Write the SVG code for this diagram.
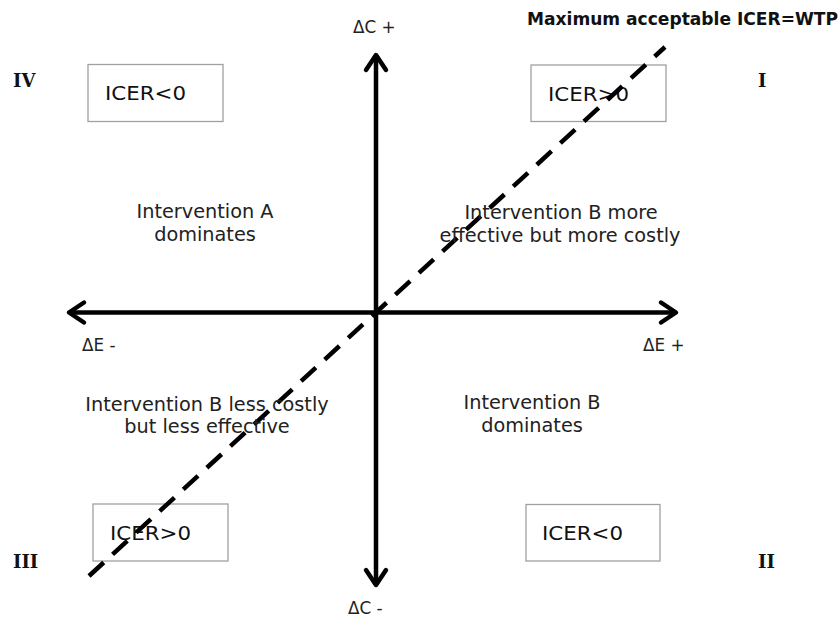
<svg xmlns="http://www.w3.org/2000/svg" width="840" height="619" viewBox="0 0 840 619">
<style>
.lbl{font-family:"DejaVu Sans","Verdana",sans-serif;fill:#222;}
.q{font-size:19.3px;text-anchor:middle;}
.ax{font-size:16.8px;}
.box rect{fill:#fff;stroke:#a0a0a0;stroke-width:1.3;}
.box text{font-family:"DejaVu Sans",sans-serif;font-size:20px;fill:#111;}
.rn{font-family:"DejaVu Serif","Liberation Serif",serif;font-weight:bold;font-size:18px;fill:#111;}
.axis{stroke:#000;stroke-width:4.5;fill:none;}
</style>
<defs>
<marker id="ah" markerUnits="userSpaceOnUse" markerWidth="30" markerHeight="30" refX="0" refY="0" viewBox="-20 -15 25 30" orient="auto">
<path d="M -15 -10 L 0 0 L -15 10" fill="none" stroke="#000" stroke-width="4.5" stroke-linecap="round" stroke-linejoin="round"/>
</marker>
</defs>
<rect width="840" height="619" fill="#fff"/>
<g id="nodes">
<g id="box-iv" class="box"><rect x="88" y="64.5" width="135" height="57"/><text x="105" y="100" textLength="81" lengthAdjust="spacingAndGlyphs">ICER&lt;0</text></g>
<g id="box-i" class="box"><rect x="531" y="65" width="135" height="56.5"/><text x="548" y="101" textLength="81" lengthAdjust="spacingAndGlyphs">ICER&gt;0</text></g>
<g id="box-iii" class="box"><rect x="93" y="504" width="135" height="57"/><text x="110" y="540" textLength="81" lengthAdjust="spacingAndGlyphs">ICER&gt;0</text></g>
<g id="box-ii" class="box"><rect x="526" y="504.5" width="134" height="56.5"/><text x="542" y="540" textLength="81" lengthAdjust="spacingAndGlyphs">ICER&lt;0</text></g>
</g>
<g id="connectors">
<line class="axis" x1="376" y1="313" x2="376" y2="55" marker-end="url(#ah)"/>
<line class="axis" x1="376" y1="313" x2="376" y2="585" marker-end="url(#ah)"/>
<line class="axis" x1="376" y1="312.5" x2="69" y2="312.5" marker-end="url(#ah)"/>
<line class="axis" x1="376" y1="312.5" x2="676" y2="312.5" marker-end="url(#ah)"/>
<line id="wtp" x1="89" y1="576" x2="665" y2="47" stroke="#000" stroke-width="4.5" stroke-dasharray="20 12"/>
</g>
<g id="labels">
<text class="lbl ax" x="353" y="33">ΔC +</text>
<text class="lbl ax" x="348" y="614">ΔC -</text>
<text class="lbl ax" x="82" y="351">ΔE -</text>
<text class="lbl ax" x="643" y="351">ΔE +</text>
<text class="lbl q" x="205" y="218">Intervention A</text>
<text class="lbl q" x="205" y="241">dominates</text>
<text class="lbl q" x="561" y="219">Intervention B more</text>
<text class="lbl q" x="560" y="242">effective but more costly</text>
<text class="lbl q" x="207" y="411">Intervention B less costly</text>
<text class="lbl q" x="207" y="433">but less effective</text>
<text class="lbl q" x="532" y="409">Intervention B</text>
<text class="lbl q" x="532" y="432">dominates</text>
<text x="527" y="25" font-family="DejaVu Sans,sans-serif" font-weight="bold" font-size="17px" fill="#111" textLength="311" lengthAdjust="spacingAndGlyphs">Maximum acceptable ICER=WTP</text>
<text class="rn" x="13" y="87">IV</text>
<text class="rn" x="758" y="87">I</text>
<text class="rn" x="13" y="568">III</text>
<text class="rn" x="758" y="568">II</text>
</g>
</svg>
